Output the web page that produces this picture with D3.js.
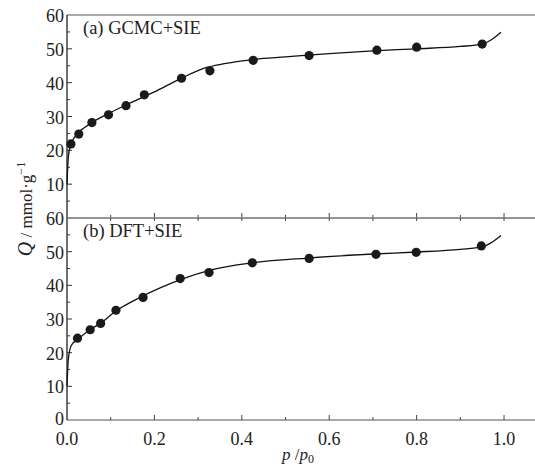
<!DOCTYPE html>
<html>
<head>
<meta charset="utf-8">
<script src="https://cdn.jsdelivr.net/npm/d3@7"></script>
<style>
  body { margin: 0; background: #fff; }
  svg { display: block; font-family: "Liberation Serif", "DejaVu Serif", serif; }
</style>
</head>
<body>
<script>
// Data
const xTicks = [0, 0.2, 0.4, 0.6, 0.8, 1.0];
const yTicks = [0, 10, 20, 30, 40, 50, 60];

// (a) GCMC+SIE
const aPointsP = [0.009, 0.027, 0.057, 0.095, 0.135, 0.177, 0.262, 0.327, 0.426, 0.554, 0.709, 0.800, 0.950];
const aPointsQ = [21.9, 24.8, 28.2, 30.5, 33.2, 36.4, 41.3, 43.5, 46.6, 48.0, 49.6, 50.5, 51.4];
const aLineP = [0, 0.003, 0.008, 0.02, 0.05, 0.1, 0.15, 0.2, 0.26, 0.32, 0.36, 0.43, 0.5, 0.6, 0.7, 0.8, 0.9, 0.95, 0.97, 0.993];
const aLineQ = [10, 18, 21.5, 24.3, 27.6, 31.2, 34.3, 37.3, 41.2, 44.5, 45.6, 46.9, 47.6, 48.6, 49.4, 50.0, 50.7, 51.4, 52.6, 54.9];

// (b) DFT+SIE
const bPointsP = [0.024, 0.053, 0.077, 0.112, 0.174, 0.259, 0.325, 0.424, 0.554, 0.707, 0.799, 0.948];
const bPointsQ = [24.3, 26.8, 28.7, 32.6, 36.4, 42.0, 43.8, 46.7, 48.0, 49.2, 49.8, 51.7];
const bLineP = [0, 0.003, 0.01, 0.025, 0.05, 0.08, 0.11, 0.17, 0.26, 0.33, 0.42, 0.55, 0.7, 0.8, 0.9, 0.95, 0.97, 0.993];
const bLineQ = [10, 18, 22.2, 24.0, 26.6, 29.0, 32.2, 36.6, 41.7, 44.6, 46.6, 48.1, 49.3, 49.9, 50.7, 51.4, 52.6, 54.8];

const width = 535, height = 467,
    left = 67, right = 539;

const panels = [
    {label: '(a) GCMC+SIE', top: 15, bottom: 218, showZero: false,
     pts: aPointsP.map((p, i) => [p, aPointsQ[i]]), line: aLineP.map((p, i) => [p, aLineQ[i]])},
    {label: '(b) DFT+SIE', top: 218, bottom: 420, showZero: true,
     pts: bPointsP.map((p, i) => [p, bPointsQ[i]]), line: bLineP.map((p, i) => [p, bLineQ[i]])}
];

let svg = d3.select('body').append('svg')
    .attr('width', width)
    .attr('height', height);

const x = d3.scaleLinear().domain([0, 1.08]).range([left, right]);

panels.forEach(function(pn) {
    const y = d3.scaleLinear().domain([0, 60]).range([pn.bottom, pn.top]);
    let g = svg.append('g');

    // frame lines (top/bottom grey, left dark)
    g.append('line').attr('x1', left).attr('x2', width).attr('y1', pn.top).attr('y2', pn.top)
        .attr('stroke', '#8c8c8c').attr('stroke-width', 1.4);
    g.append('line').attr('x1', left).attr('x2', width).attr('y1', pn.bottom).attr('y2', pn.bottom)
        .attr('stroke', '#8c8c8c').attr('stroke-width', 1.4);

    // bottom ticks pointing up (major 0.2, minor 0.1)
    g.append('g').selectAll('line')
        .data(d3.range(1, 11).map(d => d / 10))
        .enter().append('line')
        .attr('x1', d => x(d)).attr('x2', d => x(d))
        .attr('y1', pn.bottom).attr('y2', (d, i) => pn.bottom - (i % 2 === 1 ? 5 : 3))
        .attr('stroke', '#444').attr('stroke-width', 1);

    // left axis
    g.append('line').attr('x1', left).attr('x2', left).attr('y1', pn.top).attr('y2', pn.bottom)
        .attr('stroke', '#222').attr('stroke-width', 1.3);
    g.append('g').selectAll('line')
        .data(d3.range(5, 60, 5))
        .enter().append('line')
        .attr('x1', left).attr('x2', d => left + (d % 10 === 0 ? 5 : 3))
        .attr('y1', d => y(d)).attr('y2', d => y(d))
        .attr('stroke', '#333').attr('stroke-width', 1);

    g.append('g').selectAll('text')
        .data(yTicks.filter(d => pn.showZero || d > 0))
        .enter().append('text')
        .attr('x', left - 3)
        .attr('y', d => y(d) + (d === 0 ? 5 : 7))
        .attr('text-anchor', 'end')
        .attr('font-size', 18)
        .attr('fill', '#222')
        .text(d => d);

    // panel label
    g.append('text')
        .attr('x', left + 16)
        .attr('y', pn.top + 19)
        .attr('font-size', 18.5)
        .attr('fill', '#222')
        .text(pn.label);

    // curve
    const line = d3.line().x(d => x(d[0])).y(d => y(d[1])).curve(d3.curveMonotoneX);
    g.append('path')
        .datum(pn.line)
        .attr('d', line)
        .attr('fill', 'none')
        .attr('stroke', '#111')
        .attr('stroke-width', 1.3);

    // points
    g.append('g').selectAll('circle')
        .data(pn.pts)
        .enter().append('circle')
        .attr('cx', d => x(d[0]))
        .attr('cy', d => y(d[1]))
        .attr('r', 4.6)
        .attr('fill', '#1a1a1a');
});

// top panel's bottom edge also has ticks pointing down into panel (b)
svg.append('g').selectAll('line')
    .data(d3.range(1, 11).map(d => d / 10))
    .enter().append('line')
    .attr('x1', d => x(d)).attr('x2', d => x(d))
    .attr('y1', 218).attr('y2', 221)
    .attr('stroke', '#444').attr('stroke-width', 1);

// x tick labels
svg.append('g').selectAll('text')
    .data(xTicks)
    .enter().append('text')
    .attr('x', d => x(d))
    .attr('y', 445)
    .attr('text-anchor', 'middle')
    .attr('font-size', 18)
    .attr('fill', '#222')
    .text(d => d.toFixed(1));

// axis titles
let xt = svg.append('text')
    .attr('x', 298)
    .attr('y', 460)
    .attr('text-anchor', 'middle')
    .attr('font-size', 17)
    .attr('fill', '#222');
xt.append('tspan').attr('font-style', 'italic').text('p');
xt.append('tspan').text(' /');
xt.append('tspan').attr('font-style', 'italic').text('p');
xt.append('tspan').attr('font-size', 12).attr('dy', 3).text('0');

let yt = svg.append('text')
    .attr('transform', 'translate(32,209) rotate(-90)')
    .attr('text-anchor', 'middle')
    .attr('font-size', 17)
    .attr('fill', '#222');
yt.append('tspan').attr('font-style', 'italic').attr('font-size', 20).text('Q');
yt.append('tspan').text(' / mmol·g');
yt.append('tspan').attr('font-size', 12).attr('dy', -7).text('−1');
</script>
</body>
</html>
